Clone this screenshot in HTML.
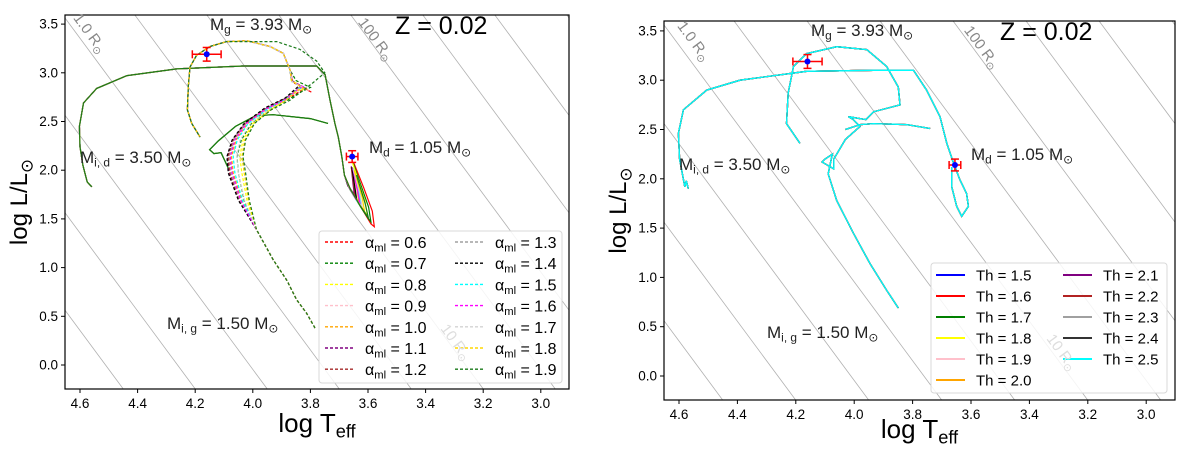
<!DOCTYPE html>
<html><head><meta charset="utf-8"><style>
html,body{margin:0;padding:0;background:#fff;width:1200px;height:455px;overflow:hidden;}
svg{display:block;font-family:"Liberation Sans","DejaVu Sans",sans-serif;}
</style></head><body>
<svg id="chart" width="1200" height="455" viewBox="0 0 1200 455">
<defs>
<clipPath id="clipL"><rect x="65" y="15" width="504" height="374"/></clipPath>
<clipPath id="clipR"><rect x="664" y="21" width="511" height="379"/></clipPath>
</defs>
<g id="panelL"></g>
<g id="panelR"></g>
</svg>
<script>
// ---------- data ----------
const xTicks = [4.6,4.4,4.2,4.0,3.8,3.6,3.4,3.2,3.0];
const yTicks = [0.0,0.5,1.0,1.5,2.0,2.5,3.0,3.5];
const radiusLogR = [-1.5,-1.0,-0.5,0.0,0.5,1.0,1.5,2.0,2.5,3.0,3.5];
const alphaLabels = ['0.6','0.7','0.8','0.9','1.0','1.1','1.2','1.3','1.4','1.5','1.6','1.7','1.8','1.9'];
const alphaColors = ['#ff0000','#008000','#ffff00','#ffc0cb','#ffa500','#800080','#a52a2a','#a0a0a0','#000000','#00ffff','#ff00ff','#d3d3d3','#ffd700','#1a7a1a'];
const thLabels = ['1.5','1.6','1.7','1.8','1.9','2.0','2.1','2.2','2.3','2.4','2.5'];
const thColors = ['#0000ff','#ff0000','#008000','#ffff00','#ffc0cb','#ffa500','#800080','#b22222','#a0a0a0','#333333','#00ffff'];

const gainStart = [[3.784,0.38],[3.813,0.53],[3.848,0.67],[3.882,0.87],[3.929,1.08],[3.987,1.39]];
const gainEnd = [[3.871,3.03],[3.894,3.20],[3.940,3.27],[4.021,3.33],[4.091,3.32],[4.149,3.27],[4.195,3.18],[4.218,3.06],[4.224,2.86],[4.227,2.62],[4.212,2.48],[4.183,2.34]];
const gainMid = [
 [[4.045,1.69],[4.078,1.97],[4.083,2.14],[4.066,2.31],[4.025,2.48],[3.955,2.63],[3.880,2.73],[3.820,2.84],[3.796,2.80],[3.860,2.90]],
 [[4.030,1.69],[4.050,1.97],[4.055,2.14],[4.040,2.31],[4.005,2.48],[3.945,2.62],[3.880,2.72],[3.835,2.80],[3.800,2.85],[3.850,2.92]],
 [[4.020,1.69],[4.038,1.97],[4.045,2.14],[4.034,2.31],[4.000,2.48],[3.940,2.62],[3.885,2.72],[3.845,2.82],[3.815,2.83],[3.862,2.92]],
 [[4.040,1.69],[4.070,1.97],[4.076,2.14],[4.060,2.31],[4.020,2.48],[3.952,2.63],[3.882,2.73],[3.830,2.84],[3.805,2.82],[3.860,2.91]],
 [[4.038,1.69],[4.068,1.97],[4.074,2.14],[4.058,2.31],[4.018,2.48],[3.950,2.63],[3.884,2.73],[3.834,2.84],[3.810,2.83],[3.862,2.91]],
 [[4.048,1.69],[4.082,1.97],[4.088,2.14],[4.070,2.31],[4.028,2.48],[3.957,2.63],[3.886,2.74],[3.838,2.85],[3.815,2.84],[3.864,2.91]],
 [[4.046,1.69],[4.080,1.97],[4.086,2.14],[4.068,2.31],[4.026,2.48],[3.956,2.63],[3.884,2.74],[3.836,2.85],[3.812,2.83],[3.862,2.91]],
 [[4.044,1.69],[4.076,1.97],[4.082,2.14],[4.065,2.31],[4.024,2.48],[3.954,2.63],[3.884,2.73],[3.838,2.85],[3.818,2.84],[3.864,2.91]],
 [[4.050,1.69],[4.085,1.97],[4.090,2.14],[4.072,2.31],[4.030,2.48],[3.958,2.64],[3.888,2.74],[3.842,2.86],[3.822,2.85],[3.866,2.92]],
 [[4.036,1.69],[4.062,1.97],[4.068,2.14],[4.054,2.31],[4.016,2.48],[3.949,2.63],[3.884,2.73],[3.840,2.84],[3.818,2.84],[3.864,2.91]],
 [[4.042,1.69],[4.072,1.97],[4.078,2.14],[4.062,2.31],[4.022,2.48],[3.953,2.63],[3.883,2.73],[3.836,2.85],[3.814,2.84],[3.862,2.91]],
 [[4.028,1.69],[4.050,1.97],[4.056,2.14],[4.044,2.31],[4.008,2.48],[3.944,2.62],[3.884,2.72],[3.842,2.83],[3.820,2.84],[3.864,2.91]],
 [[4.015,1.69],[4.030,1.97],[4.038,2.14],[4.028,2.31],[3.996,2.48],[3.938,2.62],[3.884,2.72],[3.846,2.82],[3.824,2.84],[3.866,2.92]],
 [[4.012,1.69],[4.025,1.97],[4.034,2.14],[4.025,2.31],[3.994,2.48],[3.936,2.62],[3.870,2.72],[3.790,2.90],[3.750,3.00],[3.778,3.12],[3.836,3.24],[3.917,3.32]]
];
const donorStart = [[4.559,1.83],[4.575,1.88],[4.590,2.05],[4.600,2.24],[4.602,2.45],[4.588,2.69],[4.542,2.84],[4.438,2.97],[4.264,3.04],[4.033,3.07],[3.778,3.07],[3.749,2.98],[3.732,2.72],[3.715,2.48],[3.703,2.34],[3.691,2.14],[3.682,1.95]];
const donorLoop = [
 [[3.660,1.80],[3.620,1.60],[3.590,1.45],[3.578,1.42],[3.585,1.58],[3.615,1.82],[3.650,2.08]],
 [[3.662,1.80],[3.625,1.62],[3.598,1.50],[3.590,1.47],[3.598,1.62],[3.625,1.85],[3.652,2.08]],
 [[3.665,1.82],[3.632,1.66],[3.608,1.56],[3.602,1.54],[3.610,1.68],[3.632,1.88],[3.654,2.08]],
 [[3.670,1.85],[3.650,1.75],[3.640,1.72],[3.645,1.82],[3.655,2.00]],
 [[3.668,1.84],[3.645,1.72],[3.632,1.68],[3.638,1.80],[3.654,2.02]],
 [[3.672,1.86],[3.655,1.78],[3.648,1.76],[3.652,1.86],[3.658,2.04]],
 [[3.670,1.85],[3.652,1.76],[3.644,1.74],[3.650,1.85],[3.658,2.03]],
 [[3.668,1.84],[3.642,1.70],[3.628,1.66],[3.636,1.80],[3.654,2.02]],
 [[3.670,1.84],[3.648,1.74],[3.640,1.71],[3.646,1.83],[3.656,2.03]],
 [[3.666,1.83],[3.640,1.69],[3.625,1.64],[3.632,1.78],[3.652,2.02]],
 [[3.667,1.83],[3.642,1.70],[3.628,1.66],[3.636,1.79],[3.653,2.02]],
 [[3.666,1.83],[3.636,1.68],[3.620,1.62],[3.628,1.76],[3.652,2.02]],
 [[3.664,1.82],[3.630,1.65],[3.612,1.58],[3.620,1.72],[3.648,2.00]],
 [[3.662,1.81],[3.628,1.64],[3.605,1.54],[3.598,1.50],[3.610,1.66],[3.640,1.95]]
];
const donorBranch = [[3.739,2.48],[3.800,2.53],[3.929,2.57],[3.990,2.56],[4.060,2.45],[4.120,2.30],[4.150,2.21],[4.135,2.17],[4.110,2.18],[4.085,2.02]];
const rightDonor = [[4.568,1.90],[4.575,1.98],[4.580,1.92],[4.598,2.20],[4.602,2.46],[4.585,2.70],[4.505,2.90],[4.391,3.00],[4.163,3.09],[3.934,3.10],[3.797,3.10],[3.752,2.90],[3.706,2.63],[3.683,2.36],[3.660,2.16],[3.638,1.99],[3.615,1.85],[3.609,1.72],[3.632,1.62],[3.649,1.72],[3.666,1.92],[3.666,2.12]];
const rightGainer = [[3.849,0.69],[3.889,0.87],[3.946,1.14],[4.003,1.45],[4.060,1.78],[4.089,2.05],[4.075,2.25],[4.100,2.20],[4.110,2.17],[4.070,2.10],[4.070,2.20],[4.030,2.40],[3.980,2.53],[4.003,2.60],[4.020,2.63],[3.960,2.60],[3.934,2.68],[3.843,2.75],[3.849,2.93],[3.889,3.14],[3.957,3.31],[4.060,3.34],[4.163,3.27],[4.208,3.14],[4.226,2.87],[4.232,2.56],[4.186,2.36]];
const rightBranch = [[3.740,2.51],[3.820,2.55],[3.934,2.56],[3.980,2.55],[4.030,2.50]];
const obsPoints = [[4.16,3.19,0.05,0.07],[3.655,2.14,0.02,0.06]];

// ---------- helpers ----------
const NS='http://www.w3.org/2000/svg';
function mk(parent,tag,attrs){const e=document.createElementNS(NS,tag);for(const k in attrs)e.setAttribute(k,attrs[k]);parent.appendChild(e);return e;}
function pathD(pts,X,Y){return pts.map((p,i)=>(i?'L':'M')+X(p[0]).toFixed(1)+','+Y(p[1]).toFixed(1)).join('');}
function addSubText(g,x,y,parts,size,anchor,fill){
  const t=mk(g,'text',{x:x,y:y,'font-size':size,'text-anchor':anchor||'start',fill:fill||'#222'});
  parts.forEach(p=>{const s=mk(t,'tspan',{});s.textContent=p[0];
    if(p[1]==='sub'){s.setAttribute('font-size',size*0.7);s.setAttribute('dy',size*0.22);}
    else if(p[1]==='back'){s.setAttribute('dy',-size*0.22);}
  });
  return t;
}

function drawPanel(g,clip,X,Y,box,dom,opts){
  const clipG=mk(g,'g',{'clip-path':'url(#'+clip+')'});
  // dom = [Tlow, Thigh, Llow, Lhigh]
  radiusLogR.forEach(r=>{
    const Tat=L=>(L-2*r)/4+3.7613;
    let T1=Math.min(dom[1],Tat(dom[3])), T2=Math.max(dom[0],Tat(dom[2]));
    if(T1<=T2) return;
    const l=mk(clipG,'line',{x1:X(T1),y1:Y(2*r+4*(T1-3.7613)),x2:X(T2),y2:Y(2*r+4*(T2-3.7613)),stroke:'#b0b0b0','stroke-width':0.8});
    
    
  });
  opts.tracks(clipG);
  obsPoints.forEach(o=>{
    const e=mk(clipG,'g',{});
    
    
    const cx=X(o[0]),cy=Y(o[1]),x1=X(o[0]+o[2]),x2=X(o[0]-o[2]),y1=Y(o[1]+o[3]),y2=Y(o[1]-o[3]);
    mk(e,'line',{x1:x1,y1:cy,x2:x2,y2:cy,stroke:'#ff0000','stroke-width':1.5});
    mk(e,'line',{x1:cx,y1:y1,x2:cx,y2:y2,stroke:'#ff0000','stroke-width':1.5});
    [x1,x2].forEach(x=>mk(e,'line',{x1:x,y1:cy-4,x2:x,y2:cy+4,stroke:'#ff0000','stroke-width':1.5}));
    [y1,y2].forEach(y=>mk(e,'line',{x1:cx-4,y1:y,x2:cx+4,y2:y,stroke:'#ff0000','stroke-width':1.5}));
    mk(e,'circle',{cx:cx,cy:cy,r:3,fill:'#0000ff'});
  });
  const fr=mk(g,'rect',{x:box[0],y:box[1],width:box[2]-box[0],height:box[3]-box[1],fill:'none',stroke:'#000','stroke-width':1.2});
  
  
  xTicks.forEach(t=>{
    mk(g,'line',{x1:X(t),y1:box[3],x2:X(t),y2:box[3]+4,stroke:'#000'});
    const tl=mk(g,'text',{x:X(t),y:box[3]+19,'font-size':13.5,'text-anchor':'middle',fill:'#000'});
    tl.textContent=t.toFixed(1);
    
    
  });
  yTicks.forEach(t=>{
    mk(g,'line',{x1:box[0]-4,y1:Y(t),x2:box[0],y2:Y(t),stroke:'#000'});
    const tl=mk(g,'text',{x:box[0]-7,y:Y(t)+4.5,'font-size':13.5,'text-anchor':'end',fill:'#000'});
    tl.textContent=t.toFixed(1);
    
    
  });
  const xt=addSubText(g,(box[0]+box[2])/2,opts.xt,[['log T'],['eff','sub']],26,'middle','#000');
  
  
  const yt=addSubText(g,0,0,[['log L/L'],['⊙','sub']],24,'middle','#000');
  yt.setAttribute('transform','translate('+(box[0]-38)+','+((box[1]+box[3])/2)+') rotate(-90)');
  
  
  const ann=[
    [opts.mg,[['M'],['g','sub'],[' = 3.93 M','back'],['⊙','sub']],'mass-gainer-label'],
    [opts.md,[['M'],['d','sub'],[' = 1.05 M','back'],['⊙','sub']],'mass-donor-label'],
    [opts.mid,[['M'],['i, d','sub'],[' = 3.50 M','back'],['⊙','sub']],'initial-donor-mass-label'],
    [opts.mig,[['M'],['i, g','sub'],[' = 1.50 M','back'],['⊙','sub']],'initial-gainer-mass-label']
  ];
  ann.forEach(a=>{const t=addSubText(g,a[0][0],a[0][1],a[1],17,'start','#222');
    
    });
  const z=mk(g,'text',{x:opts.z[0],y:opts.z[1],'font-size':25,fill:'#000'});
  z.textContent='Z = 0.02';
  
  
}
function radiusLabels(g,list){
  list.forEach(r=>{
    const t=addSubText(g,0,0,[[r[2]+' R'],['⊙','sub']],15,'middle',r[3]);
    t.setAttribute('transform','translate('+r[0]+','+r[1]+') rotate(53.5)');
    
    
  });
}

function legend(g,box,labels,colors,lineX,textX,rowY,rowH,perCol,dashed,isAlpha){
  const r=mk(g,'rect',{x:box[0],y:box[1],width:box[2],height:box[3],rx:3,fill:'rgba(255,255,255,0.85)',stroke:'#d8d8d8'});
  
  
  labels.forEach((lab,i)=>{
    const col=Math.floor(i/perCol),row=i%perCol;
    const e=mk(g,'g',{});
    
    
    const y=rowY+row*rowH;
    const lx=lineX[col];
    const ln=mk(e,'line',{x1:lx,y1:y,x2:lx+29,y2:y,stroke:colors[i],'stroke-width':isAlpha?1.4:2});
    if(dashed) ln.setAttribute('stroke-dasharray','3,2');
    if(isAlpha){addSubText(e,textX[col],y+6,[['α'],['ml','sub'],[' = '+lab,'back']],16,'start','#000');}
    else{const t=mk(e,'text',{x:textX[col],y:y+5.5,'font-size':15,fill:'#000'});t.textContent='Th = '+lab;}
  });
}

// ---------- left panel ----------
const XL=T=>80+(4.6-T)*288, YL=L=>365-L*97.4;
const gL=document.getElementById('panelL');
drawPanel(gL,'clipL',XL,YL,[65,15,569,389],[2.902,4.652,-0.246,3.594],{
  mg:[210,30],md:[369,153],mid:[80,163],mig:[167,329],z:[395,34],xt:432,
  tracks:function(cg){
    donorLoop.forEach((lp,i)=>{
      const p=mk(cg,'path',{d:pathD(donorStart.concat(lp),XL,YL),fill:'none',stroke:alphaColors[i],'stroke-width':1.2});
      
      
    });
    [2,1,13].forEach(i=>{
      const p=mk(cg,'path',{d:pathD(donorBranch,XL,YL),fill:'none',stroke:alphaColors[i],'stroke-width':1.2});
      
      
    });
    gainMid.forEach((m,i)=>{
      const end = i===13 ? gainEnd.slice(4) : gainEnd;
      const p=mk(cg,'path',{d:pathD(gainStart.concat(m,end),XL,YL),fill:'none',stroke:alphaColors[i],'stroke-width':1.2,'stroke-dasharray':'3,2'});
      
      
    });
  }
});
legend(gL,[319,231,243,152],alphaLabels,alphaColors,[325,455],[365,495],242,21.2,7,true,true);
radiusLabels(gL,[[86,36,'1.0','#888'],[372,42,'100','#888'],[452,345,'10','#ddd']]);

// ---------- right panel ----------
const XR=T=>679+(4.6-T)*292, YR=L=>376-L*98.6;
const gR=document.getElementById('panelR');
drawPanel(gR,'clipR',XR,YR,[664,21,1175,400],[2.901,4.651,-0.243,3.600],{
  mg:[811,36],md:[971,160],mid:[679,170],mig:[767,338],z:[1000,40],xt:438,
  tracks:function(cg){
    thColors.forEach((c,i)=>{
      [rightDonor,rightGainer,rightBranch].forEach(tr=>{
        const p=mk(cg,'path',{d:pathD(tr,XR,YR),fill:'none',stroke:c,'stroke-width':1.3});
        
        
      });
    });
  }
});
legend(gR,[931,263,236,130],thLabels,thColors,[936,1063],[976,1103],275,21,6,false,false);
radiusLabels(gR,[[690,44,'1.0','#888'],[978,50,'100','#888'],[1058,355,'10','#ddd']]);
</script>
</body></html>
